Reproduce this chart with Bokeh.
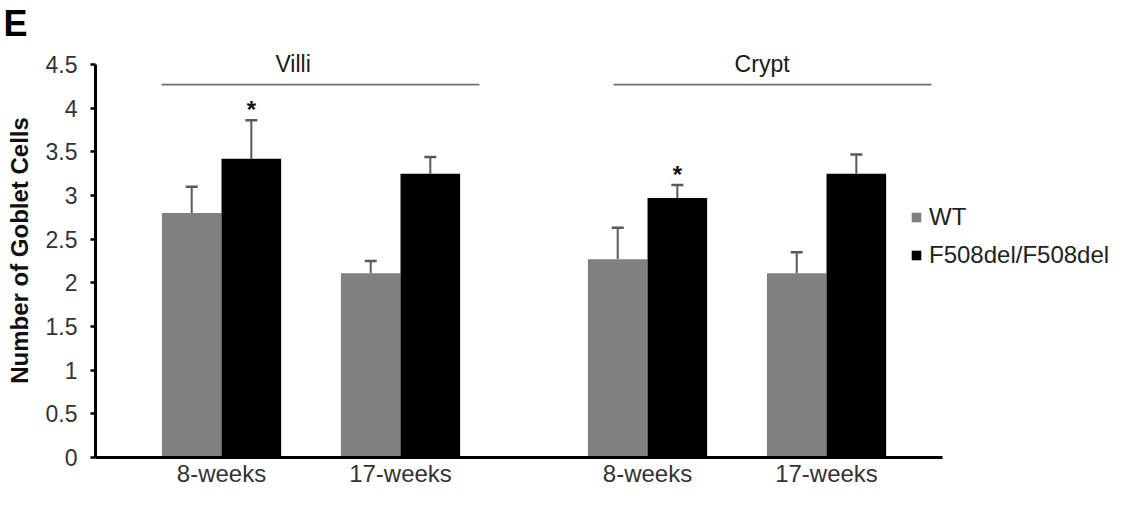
from bokeh.plotting import figure
from bokeh.models import (ColumnDataSource, Range1d, FixedTicker, Whisker, TeeHead,
                          Legend, LegendItem)
from bokeh.core.properties import value
from bokeh.embed import file_html
from bokeh.resources import INLINE

# ---- data ----
categories = ["8-weeks", "17-weeks", "8-weeks", "17-weeks"]
regions = ["Villi", "Crypt"]
wt_mean = [2.80, 2.11, 2.27, 2.11]
wt_err = [0.30, 0.14, 0.36, 0.24]
cf_mean = [3.42, 3.25, 2.97, 3.25]
cf_err = [0.44, 0.19, 0.15, 0.22]
significant = [True, False, True, False]
series_names = ["WT", "F508del/F508del"]
y_ticks = [0, 0.5, 1, 1.5, 2, 2.5, 3, 3.5, 4, 4.5]
y_tick_labels = ["0", "0.5", "1", "1.5", "2", "2.5", "3", "3.5", "4", "4.5"]

# ---- layout (positions) ----
group_pos = [0.0, 1.0, 2.38, 3.38]
bw = 0.333
FONT = value("Liberation Sans")

p = figure(width=1116, height=489, output_backend="svg", toolbar_location=None,
           x_range=Range1d(-0.704, 5.0), y_range=Range1d(0, 4.74),
           min_border_left=95, min_border_right=0, min_border_top=0, min_border_bottom=20,
           title="E")
p.title.text_font = "Liberation Sans"
p.title.text_font_size = "36px"
p.title.text_font_style = "bold"
p.title.text_color = "black"
p.title.align = "left"
p.title.offset = -92
p.title.standoff = 0
p.outline_line_color = None
p.xgrid.visible = False
p.ygrid.visible = False
p.background_fill_color = "white"

wt_x = [g - bw / 2 for g in group_pos]
cf_x = [g + bw / 2 for g in group_pos]

src_wt = ColumnDataSource(dict(x=wt_x, top=wt_mean, upper=[m + e for m, e in zip(wt_mean, wt_err)]))
src_cf = ColumnDataSource(dict(x=cf_x, top=cf_mean, upper=[m + e for m, e in zip(cf_mean, cf_err)]))

r_wt = p.vbar(x="x", top="top", width=bw, source=src_wt, fill_color="#808080", line_color=None)
r_cf = p.vbar(x="x", top="top", width=bw, source=src_cf, fill_color="#000000", line_color=None)

for src in (src_wt, src_cf):
    w = Whisker(source=src, base="x", lower="top", upper="upper", dimension="height",
                line_color="#595959", line_width=2,
                upper_head=TeeHead(size=12, line_color="#595959", line_width=2.5),
                lower_head=None)
    p.add_layout(w)

# significance asterisks
ast_x = [cf_x[i] for i in range(4) if significant[i]]
ast_y = [cf_mean[i] + cf_err[i] + 0.12 for i in range(4) if significant[i]]
p.text(x=ast_x, y=ast_y, text=["*"] * len(ast_x), text_font=FONT, text_font_style="bold",
       text_font_size="24px", text_align="center", text_baseline="middle", text_color="#111111")

# region brackets
line_y = 4.27
p.segment(x0=[-0.335, 2.19], y0=[line_y, line_y], x1=[1.441, 3.966], y1=[line_y, line_y],
          line_color="#707070", line_width=1.8)
p.text(x=[0.40, 3.02], y=[4.51, 4.51], text=regions, text_font=FONT,
       text_font_size="23px", text_align="center", text_baseline="middle", text_color="#1a1a1a")

# axes
p.yaxis.ticker = FixedTicker(ticks=y_ticks)
p.yaxis.major_label_overrides = {t: l for t, l in zip(y_ticks, y_tick_labels)}
p.yaxis.bounds = (0, 4.5)
p.yaxis.axis_line_width = 3
p.yaxis.axis_line_color = "black"
p.yaxis.major_tick_line_width = 2.5
p.yaxis.major_tick_line_color = "black"
p.yaxis.major_tick_out = 5
p.yaxis.major_tick_in = 0
p.yaxis.minor_tick_line_color = None
p.yaxis.minor_tick_out = 0
p.yaxis.minor_tick_in = 0
p.yaxis.major_label_text_font = "Liberation Sans"
p.yaxis.major_label_text_font_size = "23px"
p.yaxis.major_label_text_color = "#333333"
p.yaxis.major_label_standoff = 13
p.yaxis.axis_label = "Number of Goblet Cells"
p.yaxis.axis_label_text_font = "Liberation Sans"
p.yaxis.axis_label_text_font_size = "24px"
p.yaxis.axis_label_text_font_style = "bold"
p.yaxis.axis_label_text_color = "#111111"
p.yaxis.axis_label_standoff = 10

p.xaxis.ticker = FixedTicker(ticks=group_pos)
p.xaxis.major_label_overrides = {g: c for g, c in zip(group_pos, categories)}
p.xaxis.bounds = (-0.704, 4.028)
p.xaxis.axis_line_width = 3
p.xaxis.axis_line_color = "black"
p.xaxis.major_tick_line_color = None
p.xaxis.major_tick_out = 0
p.xaxis.major_tick_in = 0
p.xaxis.minor_tick_line_color = None
p.xaxis.minor_tick_out = 0
p.xaxis.minor_tick_in = 0
p.xaxis.axis_label_standoff = 0
p.xaxis.major_label_text_font = "Liberation Sans"
p.xaxis.major_label_text_font_size = "24px"
p.xaxis.major_label_text_color = "#333333"
p.xaxis.major_label_standoff = 2

legend = Legend(items=[LegendItem(label=series_names[0], renderers=[r_wt]),
                       LegendItem(label=series_names[1], renderers=[r_cf])],
                location=(815, 188), padding=0, margin=0, spacing=10,
                glyph_width=12, glyph_height=12, label_standoff=7,
                label_text_font="Liberation Sans", label_text_font_size="24px",
                label_text_color="#222222", border_line_color=None, background_fill_alpha=0)
p.add_layout(legend)

open("out.html", "w").write(file_html(p, INLINE))
